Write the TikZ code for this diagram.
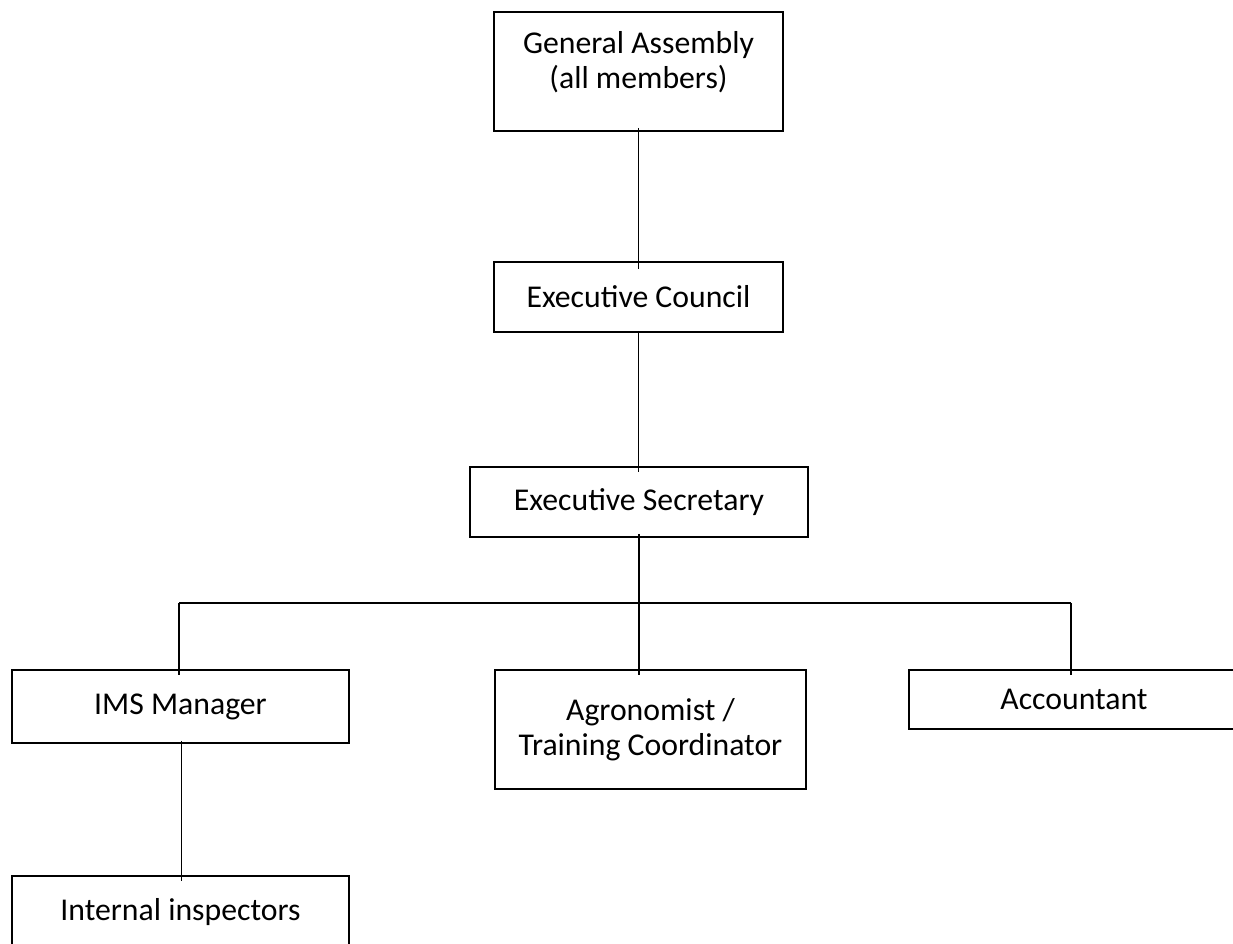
\documentclass[tikz,border=0pt]{standalone}
\usepackage{fontspec}
\setmainfont{Carlito}
\begin{document}
\begin{tikzpicture}[x=0.75pt,y=0.75pt,
  box/.style={draw=black, line width=1.4pt, inner sep=0pt, align=center,
    font=\fontsize{23.8}{26.5}\selectfont},
  lbl/.style={inner sep=0pt, align=center, font=\fontsize{23.8}{26.5}\selectfont},
  link/.style={line width=1pt, draw=black}]
\useasboundingbox (0,0) rectangle (1233,944);
\clip (0,0) rectangle (1233,944);
% boxes
\node[box, minimum width=289*0.75pt, minimum height=119*0.75pt] (ga) at (638.5,872.5) {};
\node[lbl] (galbl) at ([yshift=6.75pt]ga.center) {General Assembly\\(all members)};
\node[box, minimum width=289*0.75pt, minimum height=70*0.75pt] (ec) at (638.5,647) {Executive Council};
\node[box, minimum width=338*0.75pt, minimum height=70*0.75pt] (es) at (639,442) {Executive Secretary};
\node[box, minimum width=337*0.75pt, minimum height=73*0.75pt] (ims) at (180.5,237.5) {IMS Manager};
\node[box, minimum width=311*0.75pt, minimum height=119*0.75pt] (agro) at (650.5,214.5) {Agronomist /\\Training Coordinator};
\node[box, minimum width=330*0.75pt, minimum height=59*0.75pt] (acc) at (1074,244.5) {Accountant};
\node[box, minimum width=337*0.75pt, minimum height=73*0.75pt] (int) at (180.5,31.5) {Internal inspectors};
% connectors
\coordinate (bl) at (179,341);
\coordinate (br) at (1071,341);
\draw[link] ([yshift=3pt]ga.south) -- ([yshift=-6pt]ga.south |- ec.north);
\draw[link] ([yshift=1.5pt]ec.south) -- ([yshift=-4.5pt]ec.south |- es.north);
\draw[link] ([yshift=3pt]es.south) -- ([yshift=-4.5pt]es.south |- agro.north);
\draw[link] (bl) -- (br);
\draw[link] (bl) -- ([yshift=-4.5pt]bl |- ims.north);
\draw[link] (br) -- ([yshift=-4.5pt]br |- acc.north);
\draw[link] ([yshift=2.25pt,xshift=0.75pt]ims.south) -- ([yshift=-4.5pt,xshift=0.75pt]int.north);
\end{tikzpicture}
\end{document}
